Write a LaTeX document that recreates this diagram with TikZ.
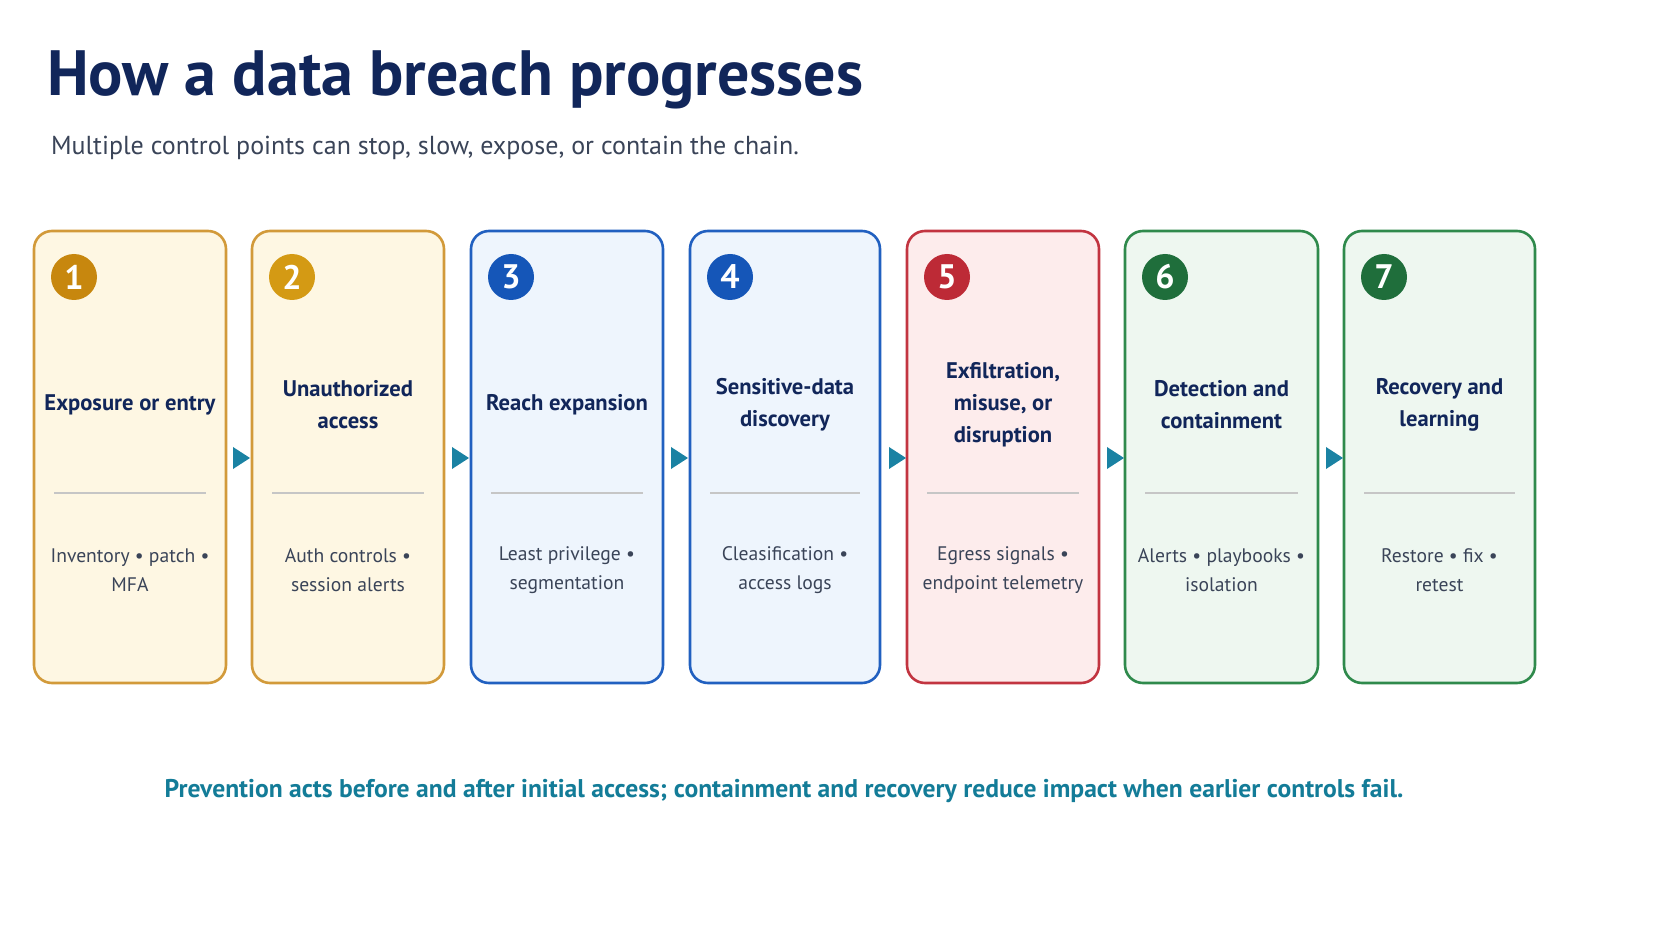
\documentclass[tikz,border=0pt]{standalone}
\usepackage{fontspec}
\setmainfont{PT Sans}
\begin{document}
\begin{tikzpicture}[x=0.5pt,y=-0.5pt,
 card/.style={draw=#1, line width=1.3pt, rounded corners=9pt},
 num/.style={circle, fill=#1, minimum size=23pt, inner sep=0pt, text=white, font=\bfseries\fontsize{17}{17}\selectfont},
 ttl/.style={align=center, text=navy, font=\bfseries\fontsize{11.3}{16}\selectfont},
 body/.style={align=center, text=bodyc, font=\fontsize{9.8}{14.5}\selectfont},
 arr/.style={fill=teal1}]
\definecolor{navy}{HTML}{11265A}
\definecolor{bodyc}{HTML}{3A4458}
\definecolor{teal1}{HTML}{1A82A3}
\definecolor{footc}{HTML}{137C98}
\definecolor{ambB}{HTML}{D29A3A}\definecolor{ambF}{HTML}{FEF7E3}
\definecolor{ambC}{HTML}{C7870E}\definecolor{ambC2}{HTML}{D49A14}
\definecolor{bluB}{HTML}{2160C0}\definecolor{bluF}{HTML}{EEF5FD}\definecolor{bluC}{HTML}{1556B8}
\definecolor{redB}{HTML}{C23440}\definecolor{redF}{HTML}{FDECEC}\definecolor{redC}{HTML}{BD2A36}
\definecolor{grnB}{HTML}{2F8A4C}\definecolor{grnF}{HTML}{EEF7F0}\definecolor{grnC}{HTML}{1F6E3B}
\useasboundingbox (0,0) rectangle (1672,941);
\fill[white] (0,0) rectangle (1672,941);
\node[anchor=west, text=navy, font=\bfseries\fontsize{32}{36}\selectfont] (title) at (40,80) {How a data breach progresses};
\node[anchor=west, text=bodyc, font=\fontsize{13}{15}\selectfont] (sub) at (44,148) {Multiple control points can stop, slow, expose, or contain the chain.};
\foreach \i/\xa/\xb/\B/\F/\C/\t/\b in {
 1/34/226/ambB/ambF/ambC/{Exposure or entry}/{Inventory • patch •\\MFA},
 2/252/444/ambB/ambF/ambC2/{Unauthorized\\access}/{Auth controls •\\session alerts},
 3/471/663/bluB/bluF/bluC/{Reach expansion}/{Least privilege •\\segmentation},
 4/690/880/bluB/bluF/bluC/{Sensitive-data\\discovery}/{Cleasification •\\access logs},
 5/907/1099/redB/redF/redC/{Exfiltration,\\misuse, or\\disruption}/{Egress signals •\\endpoint telemetry},
 6/1125/1318/grnB/grnF/grnC/{Detection and\\containment}/{Alerts • playbooks •\\isolation},
 7/1344/1535/grnB/grnF/grnC/{Recovery and\\learning}/{Restore • fix •\\retest}}{
 \draw[card=\B, fill=\F] (\xa,231) rectangle (\xb,683);
 \node[num=\C] (n\i) at (\xa+40,277) {\i};
 \node[ttl] (t\i) at ({(\xa+\xb)/2},405) {\t};
 \draw[draw=gray!45, line width=0.6pt] (\xa+20,493) -- (\xb-20,493);
 \node[body] (b\i) at ({(\xa+\xb)/2},570) {\b};
}
\foreach \x in {233,452,671,889,1107,1326}{
 \fill[arr] (\x,447) -- (\x+17,458) -- (\x,469) -- cycle;
}
\node[text=footc, font=\bfseries\fontsize{12.8}{15}\selectfont] (foot) at (784,791) {Prevention acts before and after initial access; containment and recovery reduce impact when earlier controls fail.};
\end{tikzpicture}
\end{document}
